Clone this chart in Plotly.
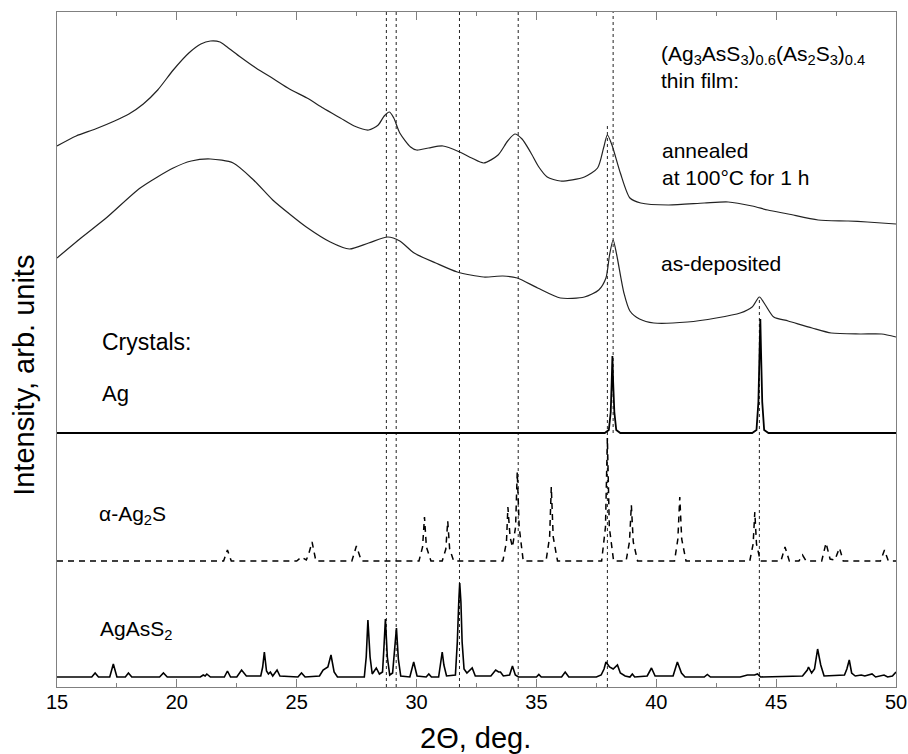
import plotly.graph_objects as go

FONT = "Arial, Liberation Sans, sans-serif"

# ---- thin film: annealed (2theta, intensity) ----
ann_x = [15.0, 15.8, 16.6, 17.4, 18.0, 18.6, 19.2, 19.85, 20.5, 21.0, 21.4, 21.8, 22.1, 22.65,
         23.3, 24.04, 24.7, 25.43, 26.1, 26.82, 27.4, 28.0, 28.4, 28.65, 28.87, 29.05, 29.3, 29.75,
         30.0, 30.5, 31.1, 31.8, 32.3, 32.8, 33.4, 33.8, 34.1, 34.4, 34.75, 35.1, 35.45, 36.0, 37.0,
         37.55, 37.8, 37.96, 38.15, 38.5, 38.9, 39.35, 40.5, 42.0, 43.0, 44.0, 44.65, 45.5, 46.75,
         48.0, 48.8, 50.0]
ann_y = [541, 551, 558, 566, 573, 583, 597, 617, 634, 643, 646, 645, 640, 630,
         619, 608, 598, 589, 579, 569, 561, 557, 562, 571, 575, 569, 554, 540,
         537, 539, 541, 535, 529, 524, 532, 546, 553, 548, 535, 520, 510, 506, 510,
         519, 539, 552, 542, 514, 489, 484, 482, 484, 485, 481, 477, 473, 467,
         466, 465, 463]

# ---- thin film: as-deposited ----
dep_x = [15.0, 16.0, 17.1, 18.47, 19.85, 20.6, 21.4, 22.35, 23.2, 24.0, 24.7, 25.4, 26.4, 27.2,
         28.0, 28.8, 29.3, 29.9, 30.8, 31.7, 32.8, 33.6, 34.2, 35.05, 36.0, 37.0, 37.6, 37.9,
         38.05, 38.2, 38.35, 38.65, 38.9, 39.3, 39.9, 41.3, 42.5, 43.5, 44.0, 44.3, 44.55, 44.9,
         45.5, 46.5, 47.3, 48.5, 49.4, 50.0]
dep_y = [429, 449, 470, 499, 519, 526, 528, 524, 507, 487, 473, 460, 445, 438,
         444, 450, 446, 434, 424, 415, 410, 411, 409, 399, 389, 390, 397, 409,
         432, 447, 432, 394, 376, 368, 364, 365, 369, 374, 380, 390, 382, 370,
         366, 359, 354, 353, 353, 350]

# ---- crystal: Ag ----
ag_x = [15.0, 37.85, 38.02, 38.10, 38.14, 38.17, 38.20, 38.25, 38.33, 38.5,
        44.0, 44.18, 44.26, 44.31, 44.34, 44.37, 44.42, 44.5, 44.68, 50.0]
ag_y = [254, 254, 257, 275, 305, 331, 305, 275, 257, 254,
        254, 257, 285, 335, 368, 335, 285, 257, 254, 254]

# ---- crystal: alpha-Ag2S ----
ags_x = [15.0, 21.95, 22.11, 22.27,
         25.0, 25.2, 25.4, 25.5, 25.64, 25.8,
         27.3, 27.49, 27.7,
         30.1, 30.25, 30.33, 30.41, 30.6,
         31.07, 31.22, 31.3, 31.38, 31.55,
         33.6, 33.75, 33.81, 33.9, 34.0, 34.13, 34.2, 34.28, 34.45,
         35.4, 35.55, 35.62, 35.7, 35.88,
         37.72, 37.88, 37.96, 38.04, 38.22,
         38.74, 38.88, 38.96, 39.04, 39.22,
         40.76, 40.9, 40.98, 41.06, 41.24,
         43.9, 44.04, 44.11, 44.18, 44.34,
         45.2, 45.37, 45.55,
         45.95, 46.1, 46.25,
         46.9, 47.08, 47.25, 47.45, 47.64, 47.8,
         49.35, 49.52, 49.68, 50.0]
ags_y = [126, 126, 137, 126,
         126, 130, 127, 133, 145, 126,
         126, 141, 126,
         126, 140, 170, 140, 126,
         126, 138, 166, 138, 126,
         126, 145, 180, 150, 140, 160, 215, 160, 126,
         126, 150, 200, 150, 126,
         126, 160, 249, 160, 126,
         126, 145, 182, 145, 126,
         126, 148, 190, 148, 126,
         126, 143, 175, 143, 126,
         126, 140, 126,
         126, 132, 126,
         126, 144, 128, 127, 139, 126,
         126, 137, 126, 126]

# ---- crystal: AgAsS2 ----
aas_x = [15.0, 16.45, 16.59, 16.73, 17.2, 17.35, 17.5, 17.85, 17.98, 18.12, 19.28, 19.44, 19.6,
         20.98, 21.1, 21.18, 21.25, 21.4, 21.98, 22.11, 22.24, 22.5, 22.7, 22.9,
         23.5, 23.58, 23.65, 23.74, 23.82, 23.9, 24.0, 24.18, 24.3, 25.05, 25.2, 25.35,
         25.95, 26.1, 26.3, 26.43, 26.56, 26.7,
         27.82, 27.9, 27.97, 28.06, 28.15, 28.32, 28.45,
         28.58, 28.64, 28.7, 28.78, 28.88, 29.0, 29.08, 29.16, 29.24, 29.34,
         29.72, 29.88, 30.02, 30.4, 30.51, 30.62,
         30.92, 31.0, 31.07, 31.14, 31.25,
         31.62, 31.7, 31.76, 31.8, 31.85, 31.9, 31.98, 32.1, 32.32, 32.45,
         33.1, 33.3, 33.42, 33.5, 33.62, 33.88, 34.0, 34.12,
         34.25, 35.0, 35.1, 35.2, 36.05, 36.2, 36.35,
         37.5, 37.7, 37.82, 37.9, 38.05, 38.2, 38.3, 38.38, 38.5, 38.7,
         38.9, 39.0, 39.1, 39.62, 39.8, 39.95,
         40.7, 40.88, 41.05, 41.2, 42.0, 42.13, 42.26,
         43.5, 43.8, 44.1, 44.22, 44.35,
         46.1, 46.3, 46.35, 46.48, 46.6, 46.73, 46.86, 47.0,
         47.85, 47.95, 48.05, 48.15, 48.3,
         48.55, 48.7, 49.0, 49.15, 49.5, 49.65, 49.85, 50.0]
aas_y = [10, 10, 14, 10, 10, 23, 10, 10, 14, 10, 10, 14, 10,
         10, 12, 11, 13, 10, 10, 16, 10, 10, 17, 11,
         11, 20, 35, 16, 13, 15, 11, 17, 11, 10, 14, 10,
         11, 17, 20, 32, 15, 10,
         10, 30, 67, 30, 13, 19, 13,
         15, 40, 68, 30, 12, 14, 35, 59, 28, 11,
         10, 25, 11, 10, 13, 10,
         10, 22, 35, 22, 11,
         12, 45, 85, 104, 85, 45, 18, 14, 19, 11,
         11, 17, 15, 15, 11, 12, 21, 12,
         10, 10, 12.5, 10, 10, 15, 10,
         10, 12, 18, 25, 20, 18, 20, 22, 14, 11,
         10, 13, 10, 11, 19, 11,
         11, 25, 14, 10, 10, 12.5, 10,
         10, 12, 12, 13, 10,
         11, 17, 20, 14, 18, 38, 22, 11,
         12, 18, 27, 14, 11,
         12, 11, 13, 10, 12, 10, 11, 15]

# ---- reference lines (2theta, y from, y to) ----
ref_x = [28.74, 29.15, 31.79, 34.24, 37.96, 38.2, 44.3]
ref_y0 = [0, 0, 0, 0, 0, 254, 0]
ref_y1 = [675, 675, 675, 675, 562, 675, 390]

x_ticks = [15, 20, 25, 30, 35, 40, 45, 50]

fig = go.Figure()
fig.add_trace(go.Scatter(x=ann_x, y=ann_y, mode="lines", name="annealed",
                         line=dict(color="#222", width=1.2, shape="spline", smoothing=0.7)))
fig.add_trace(go.Scatter(x=dep_x, y=dep_y, mode="lines", name="as-deposited",
                         line=dict(color="#222", width=1.2, shape="spline", smoothing=0.7)))
fig.add_trace(go.Scatter(x=ag_x, y=ag_y, mode="lines", name="Ag",
                         line=dict(color="black", width=1.8)))
fig.add_trace(go.Scatter(x=ags_x, y=ags_y, mode="lines", name="α-Ag2S",
                         line=dict(color="black", width=1.5, dash="6px,5px")))
fig.add_trace(go.Scatter(x=aas_x, y=aas_y, mode="lines", name="AgAsS2",
                         line=dict(color="black", width=1.6)))

for xr, a, b in zip(ref_x, ref_y0, ref_y1):
    fig.add_shape(type="line", xref="x", yref="y", x0=xr, x1=xr, y0=a, y1=b,
                  line=dict(color="#222", width=1, dash="dot"), layer="below")

labels = [
    (40.1, 632, "(Ag<sub>3</sub>AsS<sub>3</sub>)<sub>0.6</sub>(As<sub>2</sub>S<sub>3</sub>)<sub>0.4</sub>", 21),
    (40.1, 607, "thin film:", 21),
    (40.15, 537, "annealed", 21),
    (40.15, 510, "at 100\u00b0C for 1 h", 21),
    (40.1, 424, "as-deposited", 21),
    (16.8, 345, "Crystals:", 23),
    (16.8, 294, "Ag", 22),
    (16.67, 172, "\u03b1-Ag<sub>2</sub>S", 21),
    (16.72, 57, "AgAsS<sub>2</sub>", 21),
]
for lx, ly, t, fs in labels:
    fig.add_annotation(x=lx, y=ly, xref="x", yref="y", text=t, showarrow=False,
                       xanchor="left", yanchor="middle",
                       font=dict(family=FONT, size=fs, color="black"))

# axis titles
fig.add_annotation(x=0.4985, y=-0.0756, xref="paper", yref="paper", text="2\u0398, deg.",
                   showarrow=False, xanchor="center", yanchor="middle",
                   font=dict(family=FONT, size=29, color="black"))
fig.add_annotation(x=-0.0393, y=0.461, xref="paper", yref="paper", text="Intensity, arb. units",
                   showarrow=False, xanchor="center", yanchor="middle", textangle=-90,
                   font=dict(family=FONT, size=29, color="black"))

fig.update_layout(
    width=908, height=754,
    margin=dict(l=57, r=12, t=12, b=67),
    paper_bgcolor="white", plot_bgcolor="white",
    showlegend=False,
    font=dict(family=FONT, color="black"),
    xaxis=dict(range=[15, 50], tickvals=x_ticks, ticks="inside", ticklen=8,
               tickcolor="#808080", showline=True, linecolor="#808080", linewidth=1,
               mirror="ticks", showgrid=False, zeroline=False, automargin=False,
               ticklabelstandoff=-3,
               tickfont=dict(family=FONT, size=20, color="black"),
               minor=dict(dtick=2.5, ticks="inside", ticklen=4, tickcolor="#808080")),
    yaxis=dict(range=[0, 675], showticklabels=False, ticks="", showline=True,
               linecolor="#808080", linewidth=1, mirror=True, showgrid=False, zeroline=False,
               automargin=False),
)

fig.write_html("out.html", config={"displayModeBar": False},
               post_script="document.body.style.margin='0';document.body.style.overflow='hidden';")
